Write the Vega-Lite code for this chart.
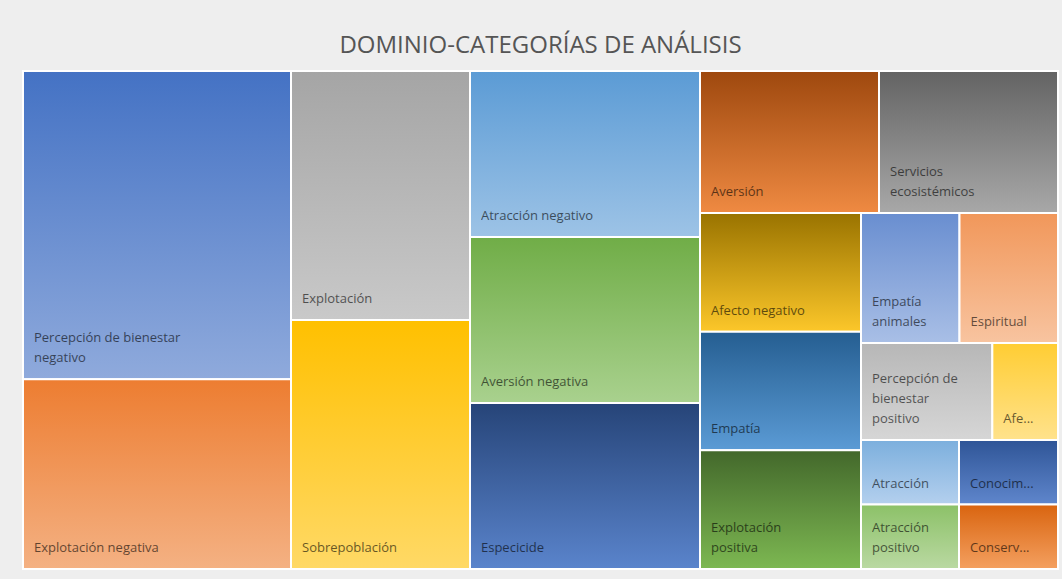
{
  "$schema": "https://vega.github.io/schema/vega-lite/v6.json",
  "background": "#eeeeee",
  "padding": {"left": 22, "top": 34, "right": 5, "bottom": 11},
  "bounds": "flush",
  "spacing": 0,
  "title": {"text": "DOMINIO-CATEGORÍAS DE ANÁLISIS", "font": "Open Sans", "fontSize": 24, "fontWeight": "normal", "color": "#555555", "anchor": "middle", "offset": 12},
  "config": {
    "view": {"stroke": null},
    "concat": {"spacing": 0},
    "text": {"font": "Open Sans", "fontSize": 13, "align": "left", "baseline": "bottom", "dx": 11, "color": "#000000", "opacity": 0.6}
  },
  "datasets": {
    "cells": [
      {"name": "Percepción de bienestar negativo", "t1": "negativo", "t2": "Percepción de bienestar", "value": 13, "group": "c1", "order": 1},
      {"name": "Explotación negativa", "t1": "Explotación negativa", "value": 8, "group": "c1", "order": 2},
      {"name": "Explotación", "t1": "Explotación", "value": 7, "group": "c2", "order": 3},
      {"name": "Sobrepoblación", "t1": "Sobrepoblación", "value": 7, "group": "c2", "order": 4},
      {"name": "Atracción negativo", "t1": "Atracción negativo", "value": 6, "group": "c3", "order": 5},
      {"name": "Aversión negativa", "t1": "Aversión negativa", "value": 6, "group": "c3", "order": 6},
      {"name": "Especicide", "t1": "Especicide", "value": 6, "group": "c3", "order": 7},
      {"name": "Aversión", "t1": "Aversión", "value": 4, "group": "r1", "order": 8},
      {"name": "Servicios ecosistémicos", "t1": "ecosistémicos", "t2": "Servicios", "value": 4, "group": "r1", "order": 9},
      {"name": "Afecto negativo", "t1": "Afecto negativo", "value": 3, "group": "c4", "order": 10},
      {"name": "Empatía", "t1": "Empatía", "value": 3, "group": "c4", "order": 11},
      {"name": "Explotación positiva", "t1": "positiva", "t2": "Explotación", "value": 3, "group": "c4", "order": 12},
      {"name": "Empatía animales", "t1": "animales", "t2": "Empatía", "value": 2, "group": "r2", "order": 13},
      {"name": "Espiritual", "t1": "Espiritual", "value": 2, "group": "r2", "order": 14},
      {"name": "Percepción de bienestar positivo", "t1": "positivo", "t2": "bienestar", "t3": "Percepción de", "value": 2, "group": "r3", "order": 15},
      {"name": "Afecto positivo", "t1": "Afe...", "value": 1, "group": "r3", "order": 16},
      {"name": "Atracción", "t1": "Atracción", "value": 1, "group": "c5", "order": 17},
      {"name": "Atracción positivo", "t1": "positivo", "t2": "Atracción", "value": 1, "group": "c5", "order": 18},
      {"name": "Conocimiento", "t1": "Conocim...", "value": 1, "group": "c6", "order": 19},
      {"name": "Conservación", "t1": "Conserv...", "value": 1, "group": "c6", "order": 20}
    ]
  },
  "hconcat": [
    {
      "width": 268, "height": 498,
      "data": {"name": "cells"},
      "transform": [{"filter": "datum.group == 'c1'"}, {"stack": "value", "groupby": [], "sort": [{"field": "order", "order": "ascending"}], "offset": "normalize", "as": ["s0", "s1"]}],
      "encoding": {
        "x": {"datum": 0, "type": "quantitative", "scale": {"domain": [0, 1]}, "axis": null},
        "y": {"field": "s1", "type": "quantitative", "scale": {"domain": [0, 1], "reverse": true}, "axis": null}
      },
      "layer": [
        {"mark": {"type": "rect", "stroke": "white", "strokeWidth": 2},
         "encoding": {
           "x2": {"datum": 1}, "y2": {"field": "s0"},
           "color": {"condition": [
             {"test": "datum.name === 'Percepción de bienestar negativo'", "value": {"gradient": "linear", "x1": 0, "y1": 0, "x2": 0, "y2": 1, "stops": [{"offset": 0, "color": "#4472C4"}, {"offset": 1, "color": "#8FAADC"}]}},
             {"test": "datum.name === 'Explotación negativa'", "value": {"gradient": "linear", "x1": 0, "y1": 0, "x2": 0, "y2": 1, "stops": [{"offset": 0, "color": "#ED7D31"}, {"offset": 1, "color": "#F4B183"}]}}
           ], "value": "#999999"}
         }},
        {"mark": {"type": "text", "dy": -14}, "encoding": {"text": {"field": "t1"}}},
        {"transform": [{"filter": "isValid(datum.t2)"}], "mark": {"type": "text", "dy": -34}, "encoding": {"text": {"field": "t2"}}}
      ]
    },
    {
      "width": 179, "height": 498,
      "data": {"name": "cells"},
      "transform": [{"filter": "datum.group == 'c2'"}, {"stack": "value", "groupby": [], "sort": [{"field": "order", "order": "ascending"}], "offset": "normalize", "as": ["s0", "s1"]}],
      "encoding": {
        "x": {"datum": 0, "type": "quantitative", "scale": {"domain": [0, 1]}, "axis": null},
        "y": {"field": "s1", "type": "quantitative", "scale": {"domain": [0, 1], "reverse": true}, "axis": null}
      },
      "layer": [
        {"mark": {"type": "rect", "stroke": "white", "strokeWidth": 2},
         "encoding": {
           "x2": {"datum": 1}, "y2": {"field": "s0"},
           "color": {"condition": [
             {"test": "datum.name === 'Explotación'", "value": {"gradient": "linear", "x1": 0, "y1": 0, "x2": 0, "y2": 1, "stops": [{"offset": 0, "color": "#A5A5A5"}, {"offset": 1, "color": "#C9C9C9"}]}},
             {"test": "datum.name === 'Sobrepoblación'", "value": {"gradient": "linear", "x1": 0, "y1": 0, "x2": 0, "y2": 1, "stops": [{"offset": 0, "color": "#FFC000"}, {"offset": 1, "color": "#FFD966"}]}}
           ], "value": "#999999"}
         }},
        {"mark": {"type": "text", "dy": -14}, "encoding": {"text": {"field": "t1"}}}
      ]
    },
    {
      "width": 230, "height": 498,
      "data": {"name": "cells"},
      "transform": [{"filter": "datum.group == 'c3'"}, {"stack": "value", "groupby": [], "sort": [{"field": "order", "order": "ascending"}], "offset": "normalize", "as": ["s0", "s1"]}],
      "encoding": {
        "x": {"datum": 0, "type": "quantitative", "scale": {"domain": [0, 1]}, "axis": null},
        "y": {"field": "s1", "type": "quantitative", "scale": {"domain": [0, 1], "reverse": true}, "axis": null}
      },
      "layer": [
        {"mark": {"type": "rect", "stroke": "white", "strokeWidth": 2},
         "encoding": {
           "x2": {"datum": 1}, "y2": {"field": "s0"},
           "color": {"condition": [
             {"test": "datum.name === 'Atracción negativo'", "value": {"gradient": "linear", "x1": 0, "y1": 0, "x2": 0, "y2": 1, "stops": [{"offset": 0, "color": "#5B9BD5"}, {"offset": 1, "color": "#9DC3E6"}]}},
             {"test": "datum.name === 'Aversión negativa'", "value": {"gradient": "linear", "x1": 0, "y1": 0, "x2": 0, "y2": 1, "stops": [{"offset": 0, "color": "#70AD47"}, {"offset": 1, "color": "#A9D18E"}]}},
             {"test": "datum.name === 'Especicide'", "value": {"gradient": "linear", "x1": 0, "y1": 0, "x2": 0, "y2": 1, "stops": [{"offset": 0, "color": "#264478"}, {"offset": 1, "color": "#5A84CC"}]}}
           ], "value": "#999999"}
         }},
        {"mark": {"type": "text", "dy": -14}, "encoding": {"text": {"field": "t1"}}}
      ]
    },
    {
      "spacing": 0,
      "bounds": "flush",
      "vconcat": [
        {
          "width": 358, "height": 142,
          "data": {"name": "cells"},
          "transform": [{"filter": "datum.group == 'r1'"}, {"stack": "value", "groupby": [], "sort": [{"field": "order", "order": "ascending"}], "offset": "normalize", "as": ["s0", "s1"]}],
          "encoding": {
            "x": {"field": "s0", "type": "quantitative", "scale": {"domain": [0, 1]}, "axis": null},
            "y": {"datum": 0, "type": "quantitative", "scale": {"domain": [0, 1]}, "axis": null}
          },
          "layer": [
            {"mark": {"type": "rect", "stroke": "white", "strokeWidth": 2},
             "encoding": {
               "x2": {"field": "s1"}, "y2": {"datum": 1},
               "color": {"condition": [
                 {"test": "datum.name === 'Aversión'", "value": {"gradient": "linear", "x1": 0, "y1": 0, "x2": 0, "y2": 1, "stops": [{"offset": 0, "color": "#9E480E"}, {"offset": 1, "color": "#EF8A42"}]}},
                 {"test": "datum.name === 'Servicios ecosistémicos'", "value": {"gradient": "linear", "x1": 0, "y1": 0, "x2": 0, "y2": 1, "stops": [{"offset": 0, "color": "#636363"}, {"offset": 1, "color": "#A8A8A8"}]}}
               ], "value": "#999999"}
             }},
            {"mark": {"type": "text", "dy": -14}, "encoding": {"text": {"field": "t1"}}},
            {"transform": [{"filter": "isValid(datum.t2)"}], "mark": {"type": "text", "dy": -34}, "encoding": {"text": {"field": "t2"}}}
          ]
        },
        {
          "spacing": 0,
          "bounds": "flush",
          "hconcat": [
            {
              "width": 161, "height": 356,
              "data": {"name": "cells"},
              "transform": [{"filter": "datum.group == 'c4'"}, {"stack": "value", "groupby": [], "sort": [{"field": "order", "order": "ascending"}], "offset": "normalize", "as": ["s0", "s1"]}],
              "encoding": {
                "x": {"datum": 0, "type": "quantitative", "scale": {"domain": [0, 1]}, "axis": null},
                "y": {"field": "s1", "type": "quantitative", "scale": {"domain": [0, 1], "reverse": true}, "axis": null}
              },
              "layer": [
                {"mark": {"type": "rect", "stroke": "white", "strokeWidth": 2},
                 "encoding": {
                   "x2": {"datum": 1}, "y2": {"field": "s0"},
                   "color": {"condition": [
                     {"test": "datum.name === 'Afecto negativo'", "value": {"gradient": "linear", "x1": 0, "y1": 0, "x2": 0, "y2": 1, "stops": [{"offset": 0, "color": "#997300"}, {"offset": 1, "color": "#FCC72A"}]}},
                     {"test": "datum.name === 'Empatía'", "value": {"gradient": "linear", "x1": 0, "y1": 0, "x2": 0, "y2": 1, "stops": [{"offset": 0, "color": "#255E91"}, {"offset": 1, "color": "#5B9BD5"}]}},
                     {"test": "datum.name === 'Explotación positiva'", "value": {"gradient": "linear", "x1": 0, "y1": 0, "x2": 0, "y2": 1, "stops": [{"offset": 0, "color": "#43682B"}, {"offset": 1, "color": "#7DB852"}]}}
                   ], "value": "#999999"}
                 }},
                {"mark": {"type": "text", "dy": -14}, "encoding": {"text": {"field": "t1"}}},
                {"transform": [{"filter": "isValid(datum.t2)"}], "mark": {"type": "text", "dy": -34}, "encoding": {"text": {"field": "t2"}}}
              ]
            },
            {
              "spacing": 0,
              "bounds": "flush",
              "vconcat": [
                {
                  "width": 197, "height": 130,
                  "data": {"name": "cells"},
                  "transform": [{"filter": "datum.group == 'r2'"}, {"stack": "value", "groupby": [], "sort": [{"field": "order", "order": "ascending"}], "offset": "normalize", "as": ["s0", "s1"]}],
                  "encoding": {
                    "x": {"field": "s0", "type": "quantitative", "scale": {"domain": [0, 1]}, "axis": null},
                    "y": {"datum": 0, "type": "quantitative", "scale": {"domain": [0, 1]}, "axis": null}
                  },
                  "layer": [
                    {"mark": {"type": "rect", "stroke": "white", "strokeWidth": 2},
                     "encoding": {
                       "x2": {"field": "s1"}, "y2": {"datum": 1},
                       "color": {"condition": [
                         {"test": "datum.name === 'Empatía animales'", "value": {"gradient": "linear", "x1": 0, "y1": 0, "x2": 0, "y2": 1, "stops": [{"offset": 0, "color": "#698ED0"}, {"offset": 1, "color": "#A9BFE6"}]}},
                         {"test": "datum.name === 'Espiritual'", "value": {"gradient": "linear", "x1": 0, "y1": 0, "x2": 0, "y2": 1, "stops": [{"offset": 0, "color": "#F1975A"}, {"offset": 1, "color": "#F8C4A0"}]}}
                       ], "value": "#999999"}
                     }},
                    {"mark": {"type": "text", "dy": -14}, "encoding": {"text": {"field": "t1"}}},
                    {"transform": [{"filter": "isValid(datum.t2)"}], "mark": {"type": "text", "dy": -34}, "encoding": {"text": {"field": "t2"}}}
                  ]
                },
                {
                  "width": 197, "height": 97,
                  "data": {"name": "cells"},
                  "transform": [{"filter": "datum.group == 'r3'"}, {"stack": "value", "groupby": [], "sort": [{"field": "order", "order": "ascending"}], "offset": "normalize", "as": ["s0", "s1"]}],
                  "encoding": {
                    "x": {"field": "s0", "type": "quantitative", "scale": {"domain": [0, 1]}, "axis": null},
                    "y": {"datum": 0, "type": "quantitative", "scale": {"domain": [0, 1]}, "axis": null}
                  },
                  "layer": [
                    {"mark": {"type": "rect", "stroke": "white", "strokeWidth": 2},
                     "encoding": {
                       "x2": {"field": "s1"}, "y2": {"datum": 1},
                       "color": {"condition": [
                         {"test": "datum.name === 'Percepción de bienestar positivo'", "value": {"gradient": "linear", "x1": 0, "y1": 0, "x2": 0, "y2": 1, "stops": [{"offset": 0, "color": "#B7B7B7"}, {"offset": 1, "color": "#D6D6D6"}]}},
                         {"test": "datum.name === 'Afecto positivo'", "value": {"gradient": "linear", "x1": 0, "y1": 0, "x2": 0, "y2": 1, "stops": [{"offset": 0, "color": "#FFCD33"}, {"offset": 1, "color": "#FFE28C"}]}}
                       ], "value": "#999999"}
                     }},
                    {"mark": {"type": "text", "dy": -14}, "encoding": {"text": {"field": "t1"}}},
                    {"transform": [{"filter": "isValid(datum.t2)"}], "mark": {"type": "text", "dy": -34}, "encoding": {"text": {"field": "t2"}}},
                    {"transform": [{"filter": "isValid(datum.t3)"}], "mark": {"type": "text", "dy": -54}, "encoding": {"text": {"field": "t3"}}}
                  ]
                },
                {
                  "spacing": 0,
                  "bounds": "flush",
                  "hconcat": [
                    {
                      "width": 98, "height": 129,
                      "data": {"name": "cells"},
                      "transform": [{"filter": "datum.group == 'c5'"}, {"stack": "value", "groupby": [], "sort": [{"field": "order", "order": "ascending"}], "offset": "normalize", "as": ["s0", "s1"]}],
                      "encoding": {
                        "x": {"datum": 0, "type": "quantitative", "scale": {"domain": [0, 1]}, "axis": null},
                        "y": {"field": "s1", "type": "quantitative", "scale": {"domain": [0, 1], "reverse": true}, "axis": null}
                      },
                      "layer": [
                        {"mark": {"type": "rect", "stroke": "white", "strokeWidth": 2},
                         "encoding": {
                           "x2": {"datum": 1}, "y2": {"field": "s0"},
                           "color": {"condition": [
                             {"test": "datum.name === 'Atracción'", "value": {"gradient": "linear", "x1": 0, "y1": 0, "x2": 0, "y2": 1, "stops": [{"offset": 0, "color": "#7CAFDD"}, {"offset": 1, "color": "#B4D0EE"}]}},
                             {"test": "datum.name === 'Atracción positivo'", "value": {"gradient": "linear", "x1": 0, "y1": 0, "x2": 0, "y2": 1, "stops": [{"offset": 0, "color": "#8CC168"}, {"offset": 1, "color": "#BAD9A2"}]}}
                           ], "value": "#999999"}
                         }},
                        {"mark": {"type": "text", "dy": -14}, "encoding": {"text": {"field": "t1"}}},
                        {"transform": [{"filter": "isValid(datum.t2)"}], "mark": {"type": "text", "dy": -34}, "encoding": {"text": {"field": "t2"}}}
                      ]
                    },
                    {
                      "width": 99, "height": 129,
                      "data": {"name": "cells"},
                      "transform": [{"filter": "datum.group == 'c6'"}, {"stack": "value", "groupby": [], "sort": [{"field": "order", "order": "ascending"}], "offset": "normalize", "as": ["s0", "s1"]}],
                      "encoding": {
                        "x": {"datum": 0, "type": "quantitative", "scale": {"domain": [0, 1]}, "axis": null},
                        "y": {"field": "s1", "type": "quantitative", "scale": {"domain": [0, 1], "reverse": true}, "axis": null}
                      },
                      "layer": [
                        {"mark": {"type": "rect", "stroke": "white", "strokeWidth": 2},
                         "encoding": {
                           "x2": {"datum": 1}, "y2": {"field": "s0"},
                           "color": {"condition": [
                             {"test": "datum.name === 'Conocimiento'", "value": {"gradient": "linear", "x1": 0, "y1": 0, "x2": 0, "y2": 1, "stops": [{"offset": 0, "color": "#2F5597"}, {"offset": 1, "color": "#5F86CC"}]}},
                             {"test": "datum.name === 'Conservación'", "value": {"gradient": "linear", "x1": 0, "y1": 0, "x2": 0, "y2": 1, "stops": [{"offset": 0, "color": "#D9640F"}, {"offset": 1, "color": "#F4A060"}]}}
                           ], "value": "#999999"}
                         }},
                        {"mark": {"type": "text", "dy": -14}, "encoding": {"text": {"field": "t1"}}}
                      ]
                    }
                  ]
                }
              ]
            }
          ]
        }
      ]
    }
  ]
}
